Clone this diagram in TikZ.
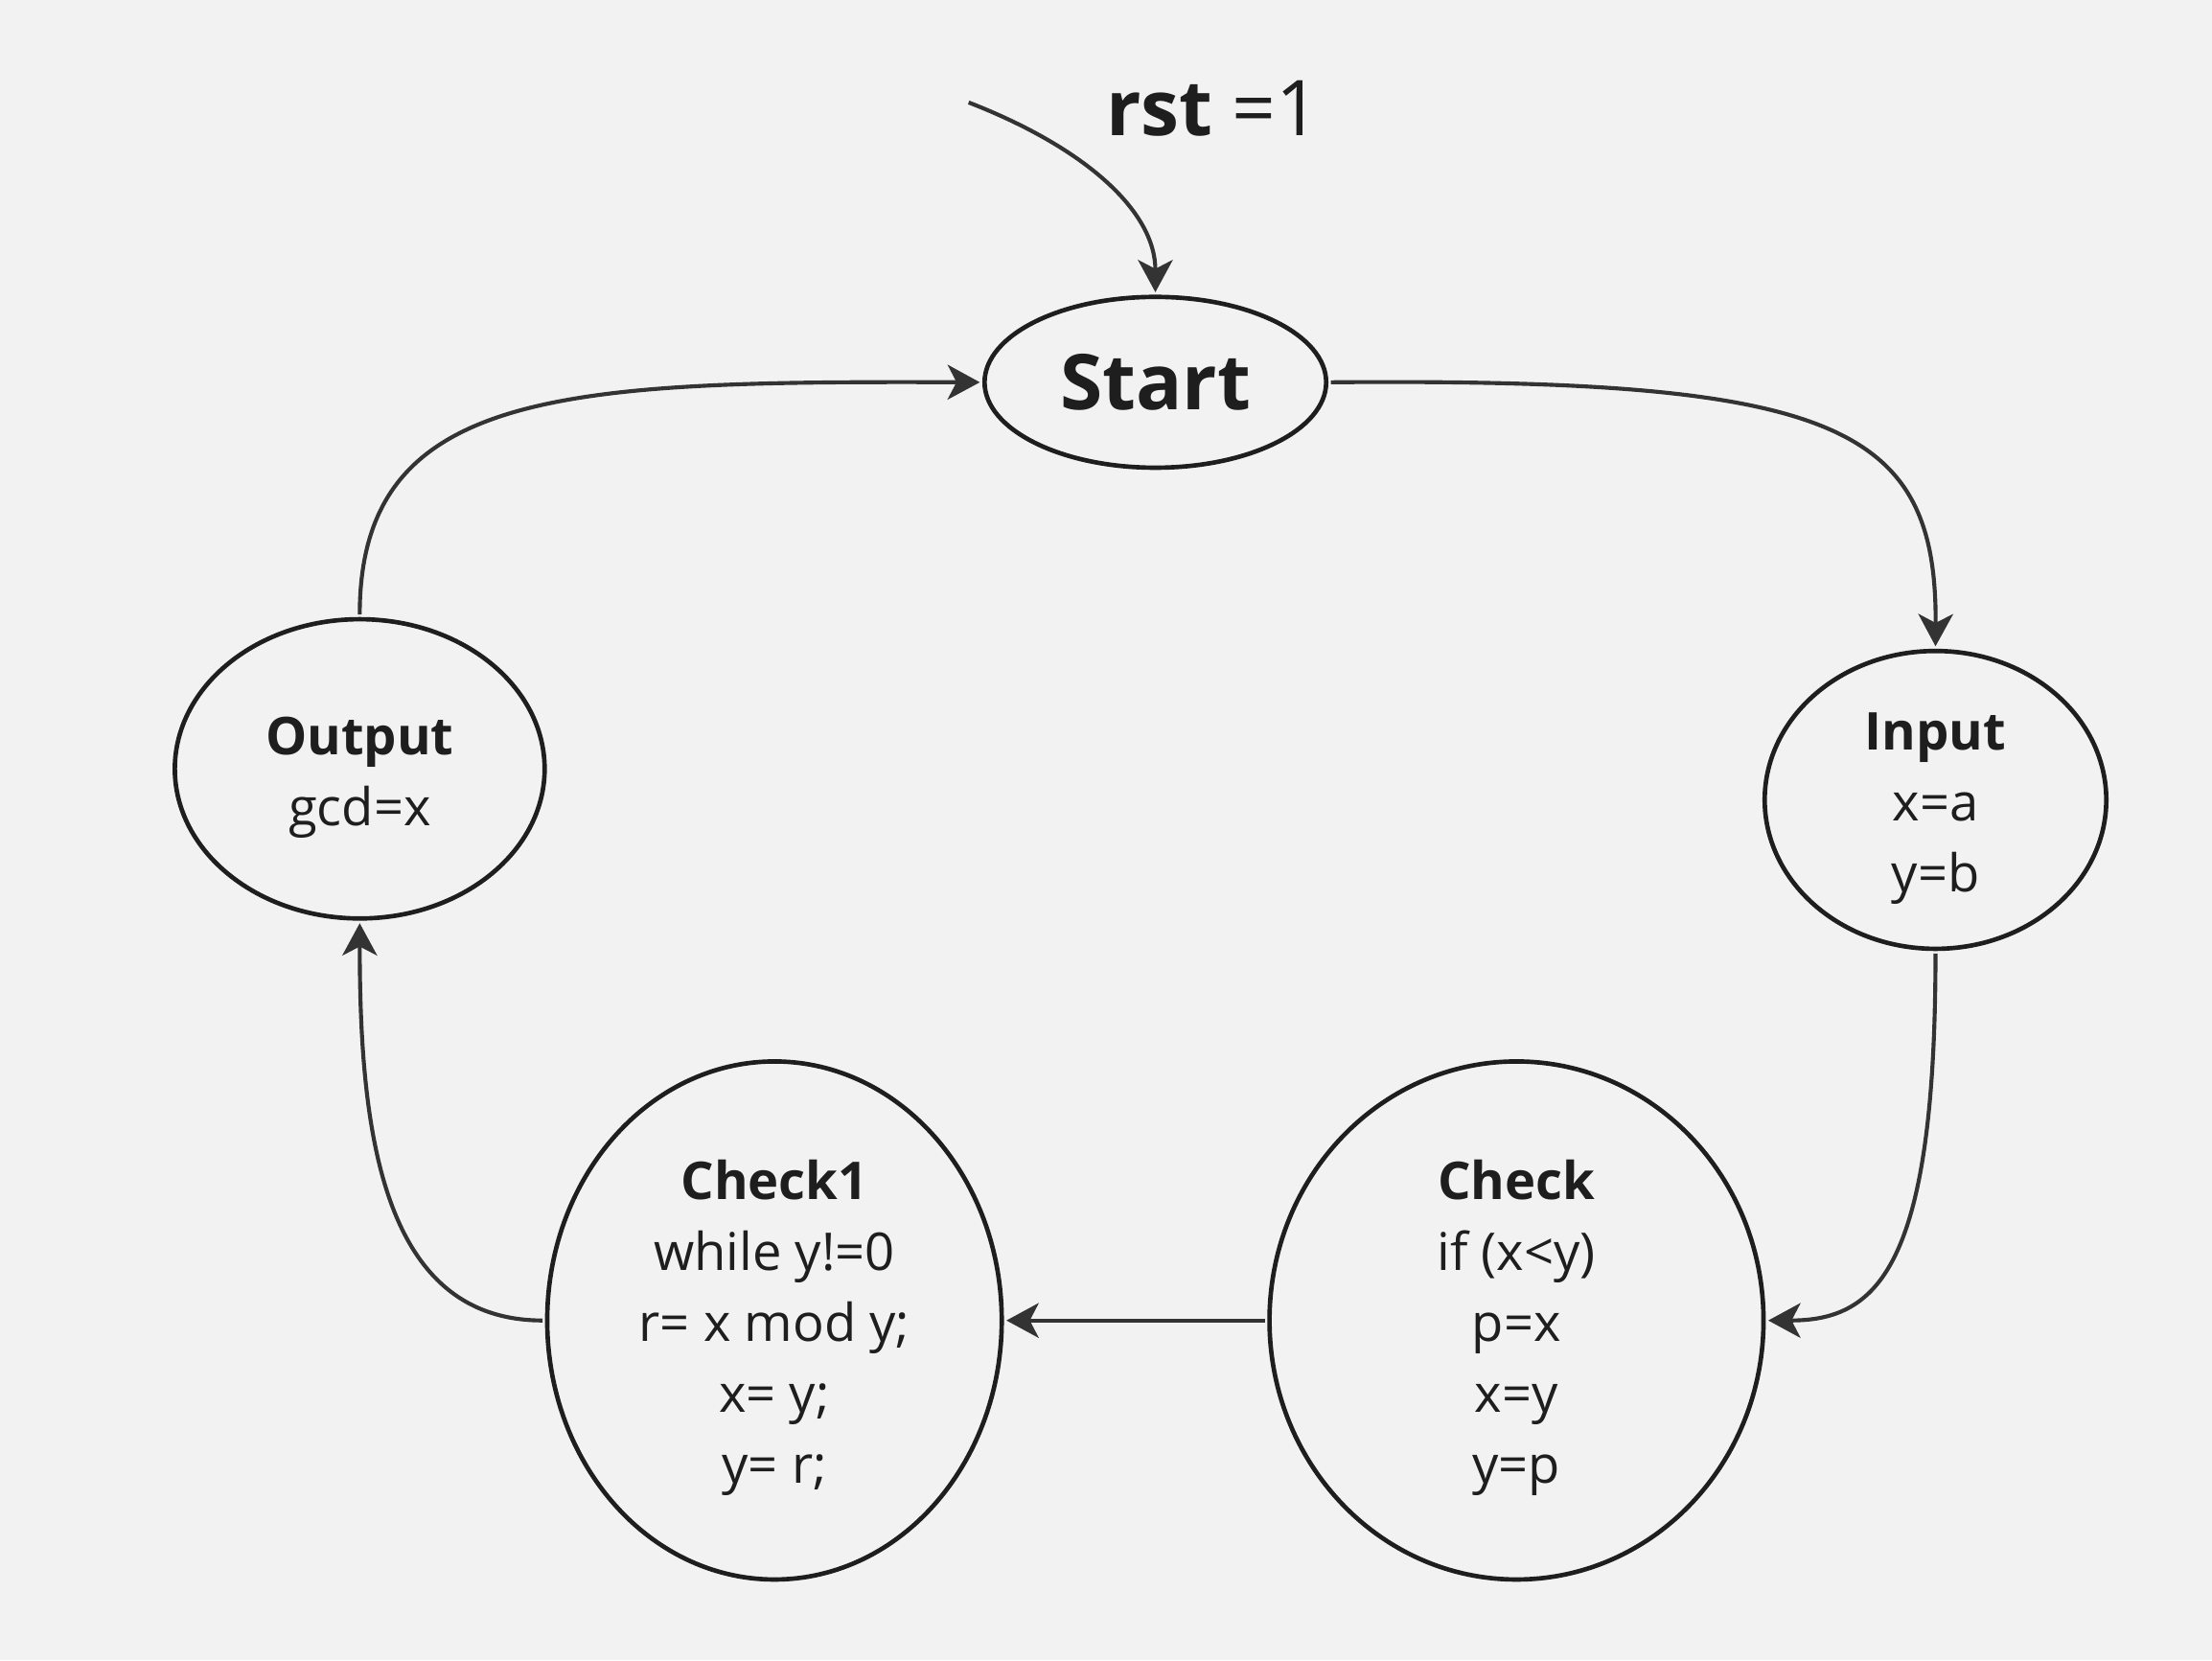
\documentclass[tikz,border=0pt]{standalone}
\usepackage{fontspec}
\setmainfont{Open Sans}
\usetikzlibrary{shapes.geometric,arrows.meta}
\definecolor{bgcol}{HTML}{F2F2F2}
\definecolor{inkcol}{HTML}{1E1E1E}
\definecolor{linecol}{HTML}{333333}
% bold first line of a state, with a strut to sit the text a bit low
\newcommand{\statehead}[1]{\rule{0pt}{11pt}\textbf{#1}}
\begin{document}
\begin{tikzpicture}[x=0.01cm, y=-0.01cm,
    state/.style={draw=inkcol, line width=0.9pt, ellipse, inner sep=-4pt,
                  text=inkcol, align=center, font=\fontsize{10.5}{14.3}\selectfont},
    conn/.style={draw=linecol, line width=0.8pt, shorten <=0.5pt, shorten >=0.5pt},
    >={Stealth[length=6.5pt, width=7pt, inset=1.8pt]}]
      \fill [bgcol] (0, 0) rectangle (1568, 1177);
      \useasboundingbox (0, 0) rectangle (1568, 1177);
      \node (start) [state, minimum width=2.42cm, minimum height=1.21cm,
                     font=\fontsize{15.5}{18}\selectfont\bfseries] at (819, 271) {Start};
      \node (input) [state, minimum width=2.42cm, minimum height=2.11cm] at (1372, 567)
            {\statehead{Input}\\x=a\\y=b};
      \node (output) [state, minimum width=2.62cm, minimum height=2.12cm] at (255, 545)
            {\statehead{Output}\\gcd=x};
      \node (checkone) [state, minimum width=3.22cm, minimum height=3.67cm] at (549, 936)
            {\statehead{Check1}\\while y!=0\\r= x mod y;\\x= y;\\y= r;};
      \node (check) [state, minimum width=3.50cm, minimum height=3.67cm] at (1075, 936)
            {\statehead{Check}\\if (x<y)\\p=x\\x=y\\y=p};
      \node (rst) [text=inkcol, font=\fontsize{15.5}{18}\selectfont] at (860, 77)
            {\textbf{rst} =1};
      \coordinate (rstin) at (685, 72);
      \draw [conn, ->] (rstin) .. controls (770, 105) and (819, 150) .. (start.north);
      \draw [conn, ->] (start.east) .. controls (1300, 268) and (1373, 300) .. (input.north);
      \draw [conn, ->] (input.south) .. controls (1372, 900) and (1330, 936) .. (check.east);
      \draw [conn, ->] (check.west) -- (checkone.east);
      \draw [conn, ->] (checkone.west) .. controls (270, 936) and (255, 800) .. (output.south);
      \draw [conn, ->] (output.north) .. controls (255, 275) and (400, 270) .. (start.west);
\end{tikzpicture}
\end{document}
